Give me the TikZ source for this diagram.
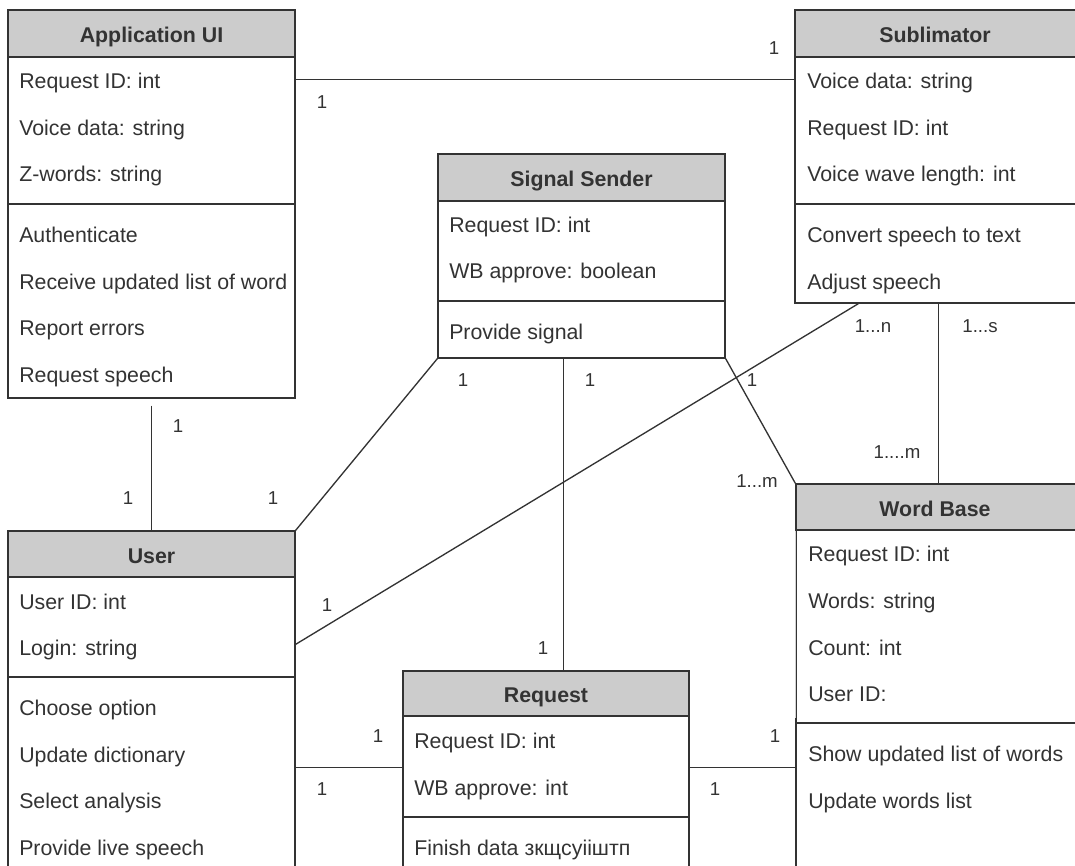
\documentclass[tikz,border=0pt]{standalone}
\usepackage{fontspec}
\setmainfont{Liberation Sans}
\usetikzlibrary{fit,calc}
\definecolor{lc}{HTML}{333333}
\definecolor{hc}{HTML}{CCCCCC}
\definecolor{tc}{HTML}{333333}
\begin{document}
\begin{tikzpicture}[x=0.75pt,y=-0.75pt,
  box/.style={draw=lc, line width=1pt, inner sep=0pt, fill=white},
  hdrbox/.style={box, fill=hc},
  title/.style={font=\fontsize{16}{19}\selectfont\bfseries, text=tc, inner sep=0pt, anchor=base},
  item/.style={font=\fontsize{16}{19}\selectfont, text=tc, anchor=base west, inner sep=0pt},
  mult/.style={font=\fontsize{14}{17}\selectfont, text=tc, inner sep=0pt, anchor=center},
  conn/.style={draw=lc, line width=1pt}]
\path[use as bounding box] (0,0) rectangle (1075,866);
\clip (0,0) rectangle (1075,866);

% ---------- Application UI ----------
\node[hdrbox, fit={(8,10)(295,57)}] (appH) {};
\node[box, fit={(8,57)(295,204)}] (appA) {};
\node[box, fit={(8,204)(295,398)}] (appM) {};
\node[title] (appT) at (151.5,43) {Application UI};
\node[item] (appA1) at (19,89) {Request ID: int};
\node[item] (appA2) at (19,135.5) {Voice data: string};
\node[item] (appA3) at (19,182) {Z-words: string};
\node[item] (appM1) at (19,242.5) {Authenticate};
\node[item] (appM2) at (19,289.5) {Receive updated list of word};
\node[item] (appM3) at (19,336) {Report errors};
\node[item] (appM4) at (19,382.5) {Request speech};

% ---------- Sublimator ----------
\node[hdrbox, fit={(795,10)(1090,57)}] (subH) {};
\node[box, fit={(795,57)(1090,204)}] (subA) {};
\node[box, fit={(795,204)(1090,303)}] (subM) {};
\node[title] (subT) at (935,43) {Sublimator};
\node[item] (subA1) at (807,89) {Voice data: string};
\node[item] (subA2) at (807,135.5) {Request ID: int};
\node[item] (subA3) at (807,182) {Voice wave length: int};
\node[item] (subM1) at (807,242.5) {Convert speech to text};
\node[item] (subM2) at (807,289.5) {Adjust speech};

% ---------- Signal Sender ----------
\node[hdrbox, fit={(438,154)(725,201)}] (ssH) {};
\node[box, fit={(438,201)(725,301)}] (ssA) {};
\node[box, fit={(438,301)(725,358)}] (ssM) {};
\node[title] (ssT) at (581.5,186.5) {Signal Sender};
\node[item] (ssA1) at (449,232.5) {Request ID: int};
\node[item] (ssA2) at (449,279) {WB approve: boolean};
\node[item] (ssM1) at (449,339.5) {Provide signal};

% ---------- User ----------
\node[hdrbox, fit={(8,531)(295,577)}] (userH) {};
\node[box, fit={(8,577)(295,677)}] (userA) {};
\node[box, fit={(8,677)(295,885)}] (userM) {};
\node[title] (userT) at (151.5,563) {User};
\node[item] (userA1) at (19,609.5) {User ID: int};
\node[item] (userA2) at (19,655.5) {Login: string};
\node[item] (userM1) at (19,715.5) {Choose option};
\node[item] (userM2) at (19,762) {Update dictionary};
\node[item] (userM3) at (19,808.5) {Select analysis};
\node[item] (userM4) at (19,855.5) {Provide live speech};

% ---------- Request ----------
\node[hdrbox, fit={(403,671)(689,716)}] (reqH) {};
\node[box, fit={(403,716)(689,817)}] (reqA) {};
\node[box, fit={(403,817)(689,885)}] (reqM) {};
\node[title] (reqT) at (546,702) {Request};
\node[item] (reqA1) at (414,748.5) {Request ID: int};
\node[item] (reqA2) at (414,795.5) {WB approve: int};
\node[item] (reqM1) at (414,855.5) {Finish data зкщсуііштп};

% ---------- Word Base ----------
\node[hdrbox, fit={(796,484)(1090,530)}] (wbH) {};
\node[box, fit={(796,530)(1090,723)}] (wbA) {};
\node[box, fit={(796,723)(1090,885)}] (wbM) {};
\draw[draw=black!18, line width=1pt] ($(wbA.north west)+(0,1.5)$) -- ($(wbA.south west)+(0,-6)$);
\node[title] (wbT) at (935,516) {Word Base};
\node[item] (wbA1) at (808,561.5) {Request ID: int};
\node[item] (wbA2) at (808,608.5) {Words: string};
\node[item] (wbA3) at (808,655.5) {Count: int};
\node[item] (wbA4) at (808,701.5) {User ID:};
\node[item] (wbM1) at (808,761.5) {Show updated list of words};
\node[item] (wbM2) at (808,808.5) {Update words list};

% ---------- Connectors ----------
\draw[conn] ($(appA.north east)+(0,23.5)$) -- ($(subA.north west)+(0,23.5)$);
\draw[conn] ($(appM.south)+(0,7)$) -- (userH.north);
\draw[conn] (ssM.south west) -- (userH.north east);
\draw[conn] ($(ssM.south west)+(126,0)$) coordinate (ssR) -- (ssR |- reqH.north);
\draw[conn] (ssM.south east) -- (wbH.north west);
\draw[conn] ($(subM.south west)+(64,0)$) -- ($(userA.north east)+(0,68)$);
\draw[conn] ($(subM.south west)+(144,0)$) coordinate (subR) -- (subR |- wbH.north);
\draw[conn] ($(userM.north east)+(0,91)$) coordinate (ur) -- (ur -| reqA.west);
\draw[conn] ($(reqA.north east)+(0,52)$) coordinate (rr) -- (rr -| wbM.west);

% ---------- Multiplicities ----------
\node[mult] (m1) at (322,102) {1};
\node[mult] (m2) at (774,48) {1};
\node[mult] (m3) at (178,426) {1};
\node[mult] (m4) at (128,498) {1};
\node[mult] (m5) at (463,380) {1};
\node[mult] (m6) at (273,498) {1};
\node[mult] (m7) at (590,380) {1};
\node[mult] (m8) at (543,648) {1};
\node[mult] (m9) at (752,380) {1};
\node[mult] (m10) at (757,481) {1...m};
\node[mult] (m11) at (873,326) {1...n};
\node[mult] (m12) at (980,326) {1...s};
\node[mult] (m13) at (897,452) {1....m};
\node[mult] (m14) at (327,605) {1};
\node[mult] (m15) at (378,736) {1};
\node[mult] (m16) at (322,789) {1};
\node[mult] (m17) at (775,736) {1};
\node[mult] (m18) at (715,789) {1};
\end{tikzpicture}
\end{document}
